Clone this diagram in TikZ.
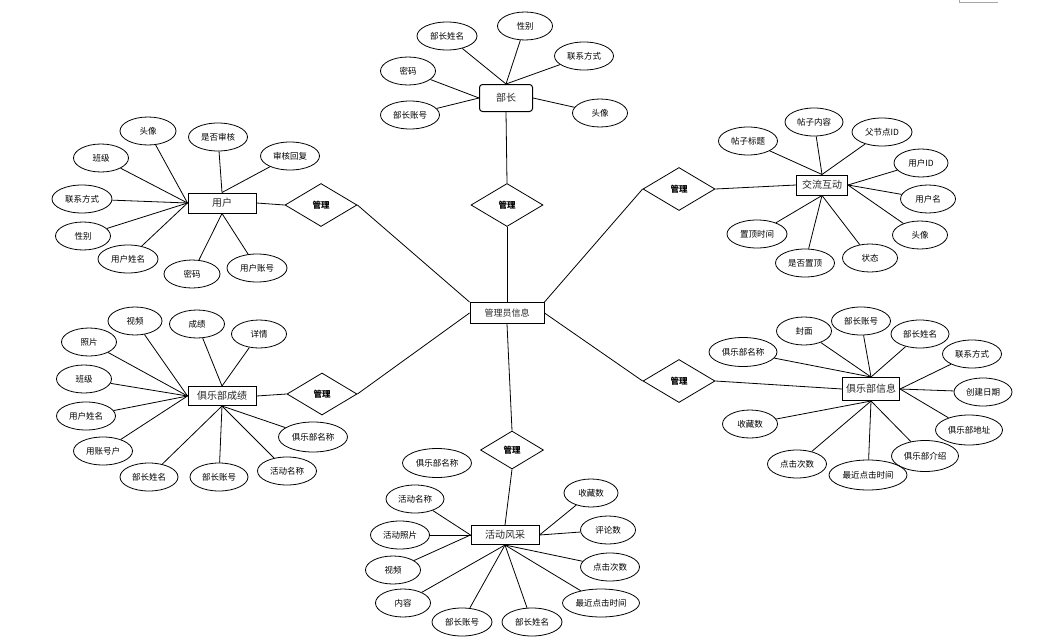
\documentclass[tikz,border=0pt]{standalone}
\usepackage{fontspec}
\usepackage{tikz}
\usetikzlibrary{shapes.geometric}
\newfontfamily\cjk{Noto Sans CJK SC}
\tikzset{
	entity/.style={draw, line width=1pt, rectangle, minimum width=68, minimum height=20, inner sep=2pt, font=\cjk\fontsize{10}{11}\selectfont, text=black!85},
	attr/.style={draw, ellipse, minimum width=56, minimum height=28, inner sep=1pt, font=\cjk\fontsize{8.5}{10}\selectfont},
	rel/.style={draw, diamond, minimum width=72, minimum height=43, inner sep=0pt, font=\cjk\bfseries\fontsize{8.5}{10}\selectfont},
}

\begin{document}
\begin{tikzpicture}[x=1pt, y=-1pt, line width=0.8pt]
		%%%%% START %%%%%
		\useasboundingbox (0, 0) rectangle (1046, 642);
		\draw[line width=1pt, color=black!35] (959, 0) -- (959, 3) -- (998, 3);
		
		\node[entity, rounded corners=3pt, minimum width=53, minimum height=27] (bz) at (506, 98) {部长};
		\node[entity, minimum width=68] (yh) at (222, 203) {用户};
		\node[entity, minimum width=51] (jl) at (822, 185) {交流互动};
		\node[entity, minimum width=68, minimum height=19] (cj) at (222, 396) {俱乐部成绩};
		\node[entity, minimum width=57, minimum height=23] (xx) at (871, 389) {俱乐部信息};
		\node[entity, minimum width=74, minimum height=21, font=\cjk\fontsize{9}{10}\selectfont] (gly) at (507, 313) {管理员信息};
		\node[entity, minimum width=68, minimum height=19] (hd) at (505, 535) {活动风采};
		
		\node[rel] (gl-bz) at (507, 205) {管理};
		\node[rel] (gl-yh) at (321, 205) {管理};
		\node[rel] (gl-jl) at (679, 189) {管理};
		\node[rel, minimum width=70, minimum height=42] (gl-cj) at (322, 394) {管理};
		\node[rel] (gl-xx) at (679, 381) {管理};
		\node[rel, minimum width=63, minimum height=38] (gl-hd) at (512, 450) {管理};
		
		\draw (gly.north) -- (gl-bz.south);
		\draw (gl-bz.north) -- (bz.south);
		\draw (gly.north west) -- (gl-yh.east);
		\draw (gl-yh.west) -- (yh.east);
		\draw (gly.north east) -- (gl-jl.west);
		\draw (gl-jl.east) -- (jl.west);
		\draw (gly.west) -- (gl-cj.east);
		\draw (gl-cj.west) -- (cj.east);
		\draw (gly.east) -- (gl-xx.west);
		\draw (gl-xx.east) -- (xx.west);
		\draw (gly.south) -- (gl-hd.north);
		\draw (gl-hd.south) -- (hd.north);
		
		% 部长
		\node[attr, minimum width=60] (bz-xm) at (447, 36) {部长姓名};
		\node[attr, minimum width=55] (bz-xb) at (525, 26) {性别};
		\node[attr, minimum width=59] (bz-lx) at (584, 56) {联系方式};
		\node[attr, minimum width=55] (bz-mm) at (408, 71) {密码};
		\node[attr, minimum width=59] (bz-zh) at (410, 115) {部长账号};
		\node[attr, minimum width=55] (bz-tx) at (600, 113) {头像};
		\draw (bz.north) -- (bz-xm);
		\draw (bz.north) -- (bz-xb);
		\draw (bz.north) -- (bz-lx);
		\draw (bz.west) -- (bz-mm);
		\draw (bz.west) -- (bz-zh);
		\draw (bz.east) -- (bz-tx);
		
		% 用户
		\node[attr, minimum width=56] (yh-tx) at (148, 131) {头像};
		\node[attr, minimum width=59] (yh-sh) at (218, 137) {是否审核};
		\node[attr, minimum width=55] (yh-bj) at (101, 158) {班级};
		\node[attr, minimum width=59] (yh-hf) at (290, 156) {审核回复};
		\node[attr, minimum width=60] (yh-lx) at (82, 199) {联系方式};
		\node[attr, minimum width=55] (yh-xb) at (83, 236) {性别};
		\node[attr, minimum width=60] (yh-xm) at (128, 259) {用户姓名};
		\node[attr, minimum width=56] (yh-mm) at (192, 274) {密码};
		\node[attr, minimum width=60] (yh-zh) at (257, 268) {用户账号};
		\draw (yh.west) -- (yh-tx);
		\draw (yh.north) -- (yh-sh);
		\draw (yh.west) -- (yh-bj);
		\draw (yh.north) -- (yh-hf);
		\draw (yh.west) -- (yh-lx);
		\draw (yh.west) -- (yh-xb);
		\draw (yh.west) -- (yh-xm);
		\draw (yh.south) -- (yh-mm);
		\draw (yh.south) -- (yh-zh);
		
		% 交流互动
		\node[attr, minimum width=59] (jl-bt) at (748, 141) {帖子标题};
		\node[attr, minimum width=58] (jl-nr) at (814, 122) {帖子内容};
		\node[attr, minimum width=60] (jl-fid) at (882, 132) {父节点ID};
		\node[attr, minimum width=54] (jl-uid) at (921, 163) {用户ID};
		\node[attr, minimum width=55] (jl-yhm) at (928, 199) {用户名};
		\node[attr, minimum width=55] (jl-tx) at (920, 235) {头像};
		\node[attr, minimum width=55] (jl-zt) at (870, 258) {状态};
		\node[attr, minimum width=59] (jl-zd) at (805, 263) {是否置顶};
		\node[attr, minimum width=60] (jl-sj) at (757, 234) {置顶时间};
		\draw (jl.north) -- (jl-bt);
		\draw (jl.north) -- (jl-nr);
		\draw (jl.north) -- (jl-fid);
		\draw (jl.east) -- (jl-uid);
		\draw (jl.east) -- (jl-yhm);
		\draw (jl.east) -- (jl-tx);
		\draw (jl.south) -- (jl-zt);
		\draw (jl.south) -- (jl-zd);
		\draw (jl.south) -- (jl-sj);
		
		% 俱乐部成绩
		\node[attr, minimum width=54] (cj-sp) at (135, 321) {视频};
		\node[attr, minimum width=55] (cj-cj) at (197, 324) {成绩};
		\node[attr, minimum width=55] (cj-xq) at (259, 334) {详情};
		\node[attr, minimum width=55] (cj-zp) at (89, 342) {照片};
		\node[attr, minimum width=55] (cj-bj) at (84, 379) {班级};
		\node[attr, minimum width=59] (cj-xm) at (86, 416) {用户姓名};
		\node[attr, minimum width=59] (cj-zh) at (103, 451) {用账号户};
		\node[attr, minimum width=58] (cj-bxm) at (149, 477) {部长姓名};
		\node[attr, minimum width=58] (cj-bzh) at (219, 477) {部长账号};
		\node[attr, minimum width=59] (cj-hd) at (287, 471) {活动名称};
		\node[attr, minimum width=69, minimum height=30] (cj-jlb) at (313, 437) {俱乐部名称};
		\draw (cj.west) -- (cj-sp);
		\draw (cj.north) -- (cj-cj);
		\draw (cj.north) -- (cj-xq);
		\draw (cj.west) -- (cj-zp);
		\draw (cj.west) -- (cj-bj);
		\draw (cj.west) -- (cj-xm);
		\draw (cj.west) -- (cj-zh);
		\draw (cj.south) -- (cj-bxm);
		\draw (cj.south) -- (cj-bzh);
		\draw (cj.south) -- (cj-hd);
		\draw (cj.south) -- (cj-jlb);
		
		% 俱乐部信息
		\node[attr, minimum width=55] (xx-fm) at (804, 331) {封面};
		\node[attr, minimum width=59] (xx-bzh) at (861, 321) {部长账号};
		\node[attr, minimum width=58] (xx-bxm) at (920, 334) {部长姓名};
		\node[attr, minimum width=68, minimum height=29] (xx-mc) at (743, 352) {俱乐部名称};
		\node[attr, minimum width=59] (xx-lx) at (972, 354) {联系方式};
		\node[attr, minimum width=58] (xx-rq) at (983, 392) {创建日期};
		\node[attr, minimum width=67, minimum height=30] (xx-dz) at (969, 430) {俱乐部地址};
		\node[attr, minimum width=55] (xx-sc) at (750, 424) {收藏数};
		\node[attr, minimum width=59] (xx-dj) at (797, 464) {点击次数};
		\node[attr, minimum width=78, minimum height=30] (xx-sj) at (868, 475) {最近点击时间};
		\node[attr, minimum width=67, minimum height=31] (xx-js) at (925, 456) {俱乐部介绍};
		\draw (xx.north) -- (xx-fm);
		\draw (xx.north) -- (xx-bzh);
		\draw (xx.north) -- (xx-bxm);
		\draw (xx.north) -- (xx-mc);
		\draw (xx.east) -- (xx-lx);
		\draw (xx.east) -- (xx-rq);
		\draw (xx.east) -- (xx-dz);
		\draw (xx.south) -- (xx-sc);
		\draw (xx.south) -- (xx-dj);
		\draw (xx.south) -- (xx-sj);
		\draw (xx.south) -- (xx-js);
		
		% 活动风采
		\node[attr, minimum width=69, minimum height=29] (hd-mc) at (437, 463) {俱乐部名称};
		\node[attr, minimum width=58] (hd-hm) at (415, 499) {活动名称};
		\node[attr, minimum width=59] (hd-zp) at (400, 535) {活动照片};
		\node[attr, minimum width=55] (hd-sp) at (393, 570) {视频};
		\node[attr, minimum width=55] (hd-nr) at (403, 603) {内容};
		\node[attr, minimum width=60] (hd-bzh) at (462, 622) {部长账号};
		\node[attr, minimum width=60] (hd-bxm) at (532, 622) {部长姓名};
		\node[attr, minimum width=54] (hd-sc) at (591, 493) {收藏数};
		\node[attr, minimum width=55] (hd-pl) at (608, 530) {评论数};
		\node[attr, minimum width=59] (hd-dj) at (610, 567) {点击次数};
		\node[attr, minimum width=77] (hd-sj) at (601, 603) {最近点击时间};
		\draw (hd.west) -- (hd-hm);
		\draw (hd.west) -- (hd-zp);
		\draw (hd.west) -- (hd-sp);
		\draw (hd.south) -- (hd-nr);
		\draw (hd.south) -- (hd-bzh);
		\draw (hd.south) -- (hd-bxm);
		\draw (hd.east) -- (hd-sc);
		\draw (hd.east) -- (hd-pl);
		\draw (hd.south) -- (hd-dj);
		\draw (hd.south) -- (hd-sj);
		%%%%% END %%%%%
	\end{tikzpicture}
\end{document}
